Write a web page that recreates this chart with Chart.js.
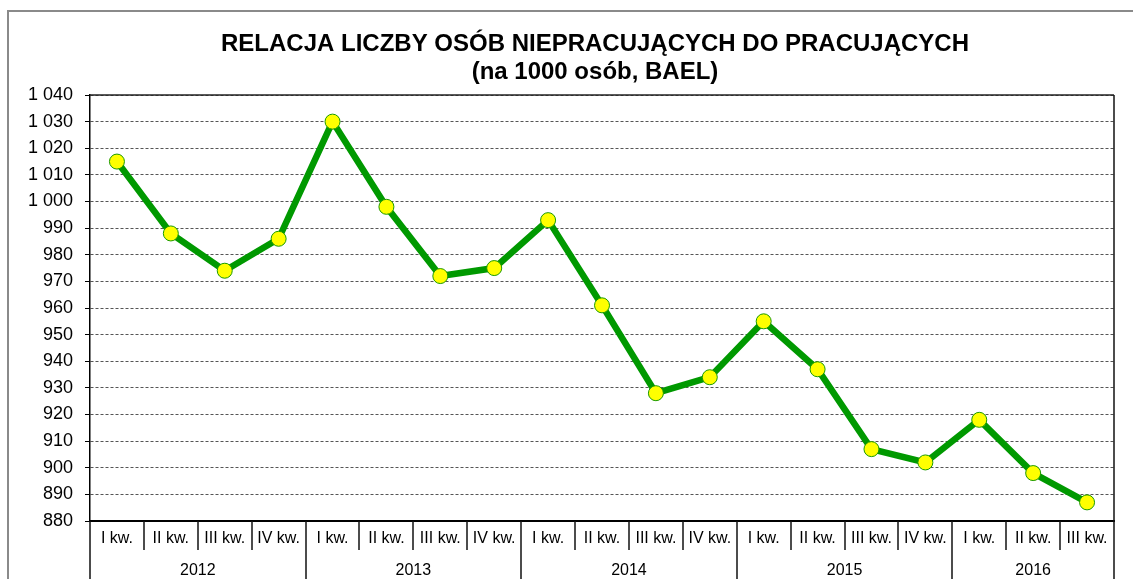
<!DOCTYPE html>
<html lang="pl">
<head>
<meta charset="utf-8">
<title>Relacja liczby osób niepracujących do pracujących</title>
<script src="https://cdn.jsdelivr.net/npm/chart.js@4/dist/chart.umd.min.js"></script>
<style>
    html, body { margin: 0; padding: 0; background: #fff; }
    #wrap { width: 1133px; height: 579px; }
</style>
</head>
<body>
<div id="wrap"><canvas id="chart" width="1133" height="579"></canvas></div>
<script>
// ============================================
// DATA
// ============================================
const titleLines = ['RELACJA LICZBY OSÓB NIEPRACUJĄCYCH DO PRACUJĄCYCH', '(na 1000 osób, BAEL)']

const quarters = [
    'I kw.', 'II kw.', 'III kw.', 'IV kw.',
    'I kw.', 'II kw.', 'III kw.', 'IV kw.',
    'I kw.', 'II kw.', 'III kw.', 'IV kw.',
    'I kw.', 'II kw.', 'III kw.', 'IV kw.',
    'I kw.', 'II kw.', 'III kw.'
]
const years = ['2012', '2013', '2014', '2015', '2016']
const quartersPerYear = [4, 4, 4, 4, 3]

// non-working persons per 1000 working
const ratio = [1015, 988, 974, 986, 1030, 998, 972, 975, 993, 961, 928, 934, 955, 937, 907, 902, 918, 898, 887]

const yMin = 880
const yMax = 1040
const yStep = 10

const FONT = "'Liberation Sans', Arial, sans-serif"

// year group starts / centres (in category index units)
const yearStarts = []
const yearCentres = []
quartersPerYear.reduce((start, n) => {
    yearStarts.push(start)
    yearCentres.push(start + (n - 1) / 2)
    return start + n
}, 0)
yearStarts.push(quarters.length)

// "1 040" style labels
const fmt = v => v >= 1000 ? Math.floor(v / 1000) + ' ' + String(v % 1000).padStart(3, '0') : String(v)

// ============================================
// FRAME / DIVIDERS / TITLE
// ============================================
const frame = {
    id: 'frame',
    beforeDraw(chart) {
        const ctx = chart.ctx
        ctx.save()
        ctx.fillStyle = '#fff'
        ctx.fillRect(0, 0, chart.width, chart.height)
        ctx.strokeStyle = '#8a8a8a'
        ctx.lineWidth = 2
        ctx.strokeRect(8, 11, chart.width + 40, chart.height + 40)
        ctx.restore()
    },
    beforeDatasetsDraw(chart) {
        const { ctx, chartArea: a } = chart
        // solid top edge of the plot area
        ctx.save()
        ctx.strokeStyle = '#222'
        ctx.lineWidth = 1.5
        ctx.beginPath()
        ctx.moveTo(a.left, a.top)
        ctx.lineTo(a.right, a.top)
        ctx.stroke()
        ctx.restore()
    },
    afterDraw(chart) {
        const { ctx, chartArea: a, scales: { x } } = chart
        const half = (x.getPixelForValue(1) - x.getPixelForValue(0)) / 2
        ctx.save()
        ctx.strokeStyle = '#111'
        ctx.lineWidth = 1.5
        for (let i = 0; i <= quarters.length; i++) {
            const px = Math.round(x.getPixelForValue(i) - half)
            const isYear = yearStarts.includes(i)
            const top = i === quarters.length ? a.top : a.bottom
            ctx.beginPath()
            ctx.moveTo(px, top)
            ctx.lineTo(px, isYear ? chart.height : a.bottom + 29)
            ctx.stroke()
        }

        ctx.fillStyle = '#000'
        ctx.font = `bold 24px ${FONT}`
        ctx.textAlign = 'center'
        ctx.textBaseline = 'middle'
        ctx.fillText(titleLines[0], 595, 44)
        ctx.fillText(titleLines[1], 595, 72)
        ctx.restore()
    }
}

// ============================================
// CHART
// ============================================
new Chart(document.getElementById('chart'), {
    type: 'line',
    data: {
        labels: quarters,
        datasets: [{
            data: ratio,
            borderColor: '#009900',
            borderWidth: 6.5,
            tension: 0,
            pointRadius: 7.5,
            pointBorderWidth: 1,
            pointBorderColor: '#1a9a00',
            pointBackgroundColor: '#ffff00',
            clip: false
        }]
    },
    options: {
        responsive: false,
        animation: false,
        layout: { padding: { top: 95, right: 19, bottom: 0, left: 0 } },
        plugins: {
            legend: { display: false },
            tooltip: { enabled: false },
            title: { display: false }
        },
        scales: {
            x: {
                type: 'category',
                offset: true,
                grid: { display: false, drawTicks: false },
                border: { display: true, color: '#000', width: 2 },
                ticks: {
                    autoSkip: false,
                    maxRotation: 0,
                    minRotation: 0,
                    padding: 8,
                    color: '#000',
                    font: { family: FONT, size: 16 }
                },
                afterFit: s => { s.height = 29 }
            },
            x2: {
                type: 'linear',
                position: 'bottom',
                min: -0.5,
                max: quarters.length - 0.5,
                grid: { display: false, drawTicks: false },
                border: { display: false },
                afterBuildTicks: s => { s.ticks = yearCentres.map(v => ({ value: v })) },
                ticks: {
                    autoSkip: false,
                    maxRotation: 0,
                    minRotation: 0,
                    padding: 11,
                    color: '#000',
                    font: { family: FONT, size: 16 },
                    callback: (v, i) => years[i]
                },
                afterFit: s => { s.height = 29 }
            },
            y: {
                min: yMin,
                max: yMax,
                grid: {
                    color: '#555',
                    lineWidth: 1,
                    tickLength: 5,
                    tickColor: '#000',
                    tickBorderDash: []
                },
                border: { display: true, color: '#000', width: 1.5, dash: [3, 2] },
                ticks: {
                    stepSize: yStep,
                    padding: 12,
                    color: '#000',
                    font: { family: FONT, size: 18 },
                    callback: v => fmt(v)
                },
                afterFit: s => { s.width = 90 }
            }
        }
    },
    plugins: [frame]
})
</script>
</body>
</html>
